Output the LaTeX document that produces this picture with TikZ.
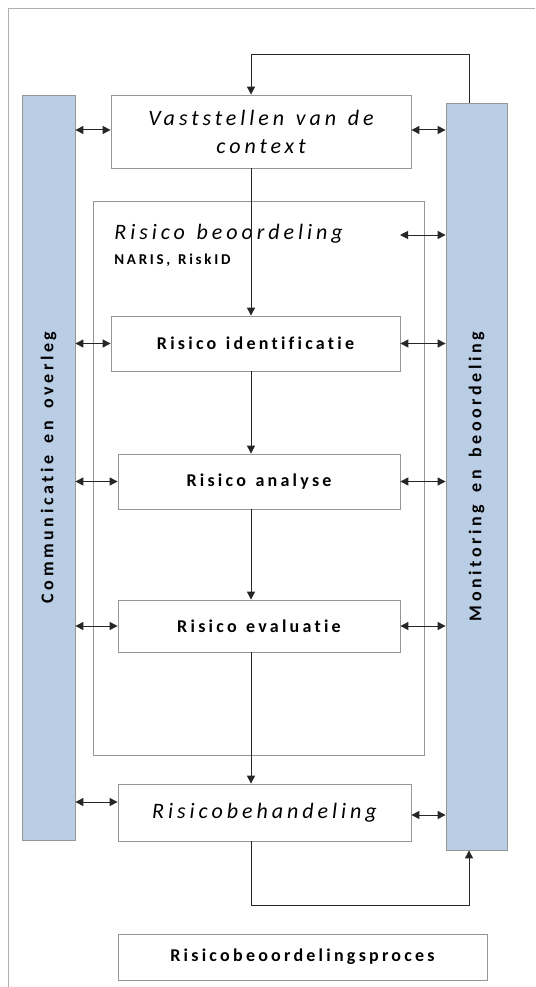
\documentclass[tikz,border=0pt]{standalone}
\usepackage{fontspec}
\usepackage{graphicx}
\setmainfont{Carlito}
\newfontfamily\spacedfont[LetterSpace=18, WordSpace=1.3, Ligatures=NoCommon]{Carlito}
\newfontfamily\barfont[LetterSpace=20, WordSpace=1.6, Ligatures=NoCommon]{Carlito}
\usetikzlibrary{arrows.meta}

\definecolor{barcolor}{RGB}{185,205,229}
\definecolor{edgecolor}{RGB}{150,150,150}
\definecolor{framecolor}{RGB}{175,175,175}

\begin{document}
\begin{tikzpicture}[x=1pt, y=-1pt, line width=0.8pt,
	box/.style = {draw=edgecolor, fill=white, inner sep=0pt, align=center},
	bar/.style = {draw=edgecolor, fill=barcolor, inner sep=0pt},
	flow/.style = {draw=black!85, line width=1pt, -{Triangle[length=8pt,width=8pt]}},
	both/.style = {draw=black!85, line width=1pt, {Triangle[length=8pt,width=8pt]}-{Triangle[length=8pt,width=8pt]}},
	stagetext/.style = {font=\spacedfont\itshape\fontsize{22}{28}\selectfont},
	steptext/.style = {font=\spacedfont\bfseries\fontsize{18}{21}\selectfont}]
	\useasboundingbox (0,0) rectangle (535,987);
	\draw[framecolor] (8,987) -- (8,8) -- (535,8);

	\node[bar, minimum width=53, minimum height=745] (comm) at (48.5,467.5) {\rotatebox{90}{\barfont\bfseries\fontsize{18}{21}\selectfont Communicatie en overleg}};
	\node[bar, minimum width=61, minimum height=747] (mon) at (476.5,476.5) {\rotatebox{90}{\barfont\bfseries\fontsize{18}{21}\selectfont Monitoring en beoordeling}};

	\node[box, stagetext, minimum width=300, minimum height=73] (context) at (261,131.5) {Vaststellen van de\\context};
	\node[box, minimum width=331, minimum height=554] (beoord) at (258.5,478) {};
	\node[stagetext, anchor=base west, inner sep=0pt] (beoordtitle) at (114,239) {Risico beoordeling};
	\node[font=\spacedfont\bfseries\fontsize{15}{18}\selectfont, anchor=base west, inner sep=0pt] (naris) at (114,264) {NARIS, RiskID};

	\node[box, steptext, minimum width=289, minimum height=55] (ident) at (255.5,343.5) {Risico identificatie};
	\node[box, steptext, minimum width=282, minimum height=55] (analyse) at (259,481.5) {Risico analyse};
	\node[box, steptext, minimum width=282, minimum height=52] (evaluatie) at (259,626) {Risico evaluatie};
	\node[box, stagetext, minimum width=293, minimum height=57] (behandeling) at (264.5,812.5) {Risicobehandeling};
	\node[box, steptext, minimum width=369, minimum height=46] (proces) at (302.5,957) {Risicobeoordelingsproces};

	\coordinate (spine) at (251,0);
	\coordinate (topturn) at (469,55);
	\coordinate (botturn) at (469,905);
	\coordinate (beoordarrow) at (400,235);

	\draw[flow] (mon.north -| topturn) -- (topturn) -| (context.north -| spine);
	\draw[flow] (context.south -| spine) -- (ident.north -| spine);
	\draw[flow] (ident.south -| spine) -- (analyse.north -| spine);
	\draw[flow] (analyse.south -| spine) -- (evaluatie.north -| spine);
	\draw[flow] (evaluatie.south -| spine) -- (behandeling.north -| spine);
	\draw[flow] (behandeling.south -| spine) |- (botturn) -- (mon.south -| botturn);

	\draw[both] ([yshift=1.5pt]context.west -| comm.east) -- ([yshift=1.5pt]context.west);
	\draw[both] ([yshift=1.5pt]context.east) -- ([yshift=1.5pt]context.east -| mon.west);
	\draw[both] (beoordarrow) -- (beoordarrow -| mon.west);
	\draw[both] (ident.west -| comm.east) -- (ident.west);
	\draw[both] (ident.east) -- (ident.east -| mon.west);
	\draw[both] (analyse.west -| comm.east) -- (analyse.west);
	\draw[both] (analyse.east) -- (analyse.east -| mon.west);
	\draw[both] (evaluatie.west -| comm.east) -- (evaluatie.west);
	\draw[both] (evaluatie.east) -- (evaluatie.east -| mon.west);
	\draw[both] ([yshift=10.5pt]behandeling.west -| comm.east) -- ([yshift=10.5pt]behandeling.west);
	\draw[both] ([yshift=-2.5pt]behandeling.east) -- ([yshift=-2.5pt]behandeling.east -| mon.west);
\end{tikzpicture}
\end{document}
